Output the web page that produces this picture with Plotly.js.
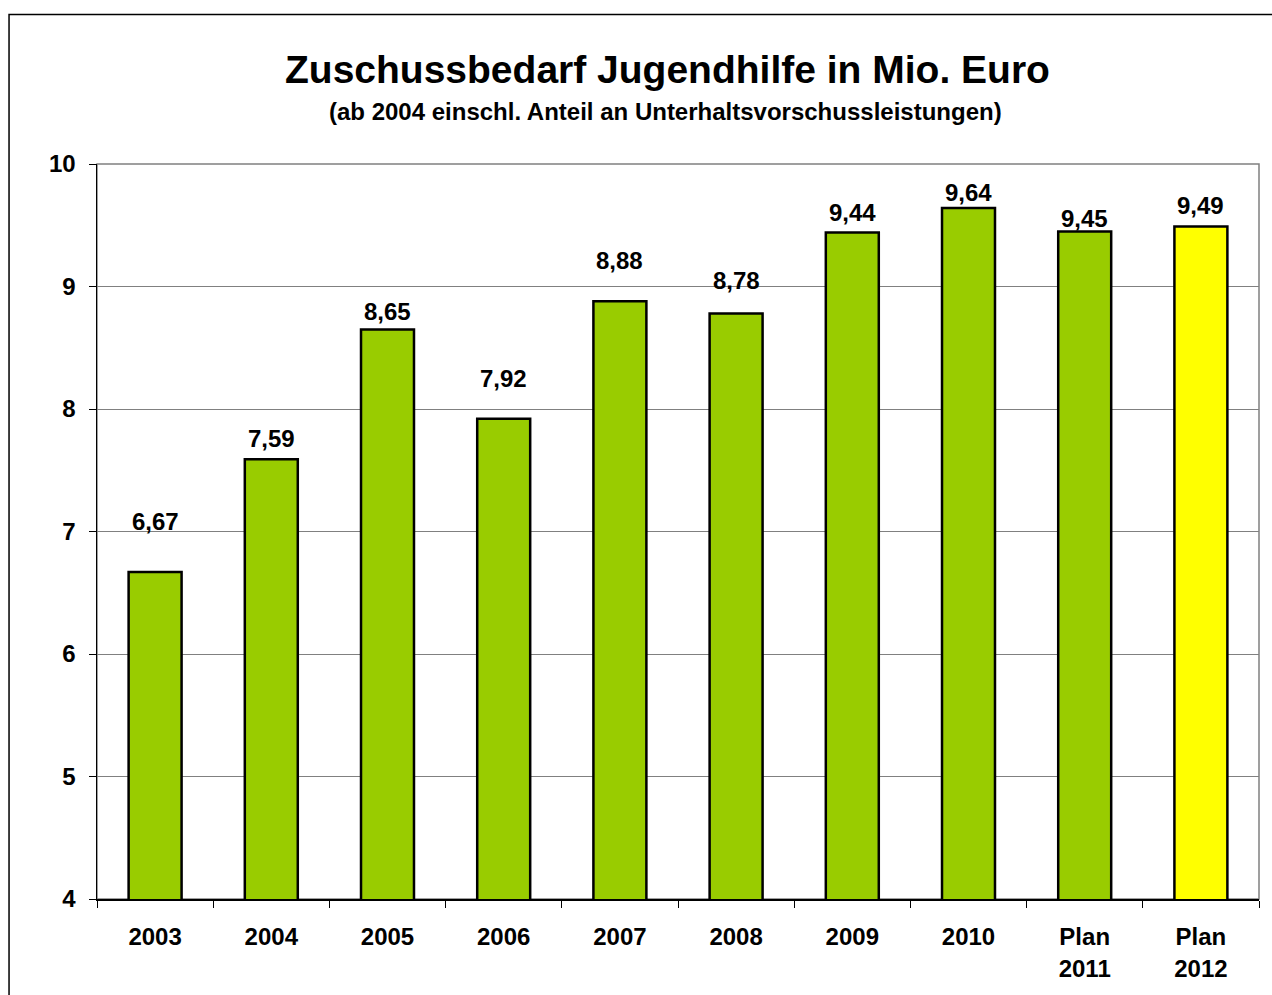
<!DOCTYPE html>
<html>
<head>
<meta charset="utf-8">
<script src="https://cdn.plot.ly/plotly-3.0.1.min.js"></script>
<style>html,body{margin:0;padding:0;background:#fff;}#chart{width:1272px;height:995px;}</style>
</head>
<body>
<div id="chart"></div>
<script>
const categories = ["2003","2004","2005","2006","2007","2008","2009","2010","Plan<br>2011","Plan<br>2012"];
const values = [6.67, 7.59, 8.65, 7.92, 8.88, 8.78, 9.44, 9.64, 9.45, 9.49];
const valueLabels = ["6,67","7,59","8,65","7,92","8,88","8,78","9,44","9,64","9,45","9,49"];
const yTicks = [4, 5, 6, 7, 8, 9, 10];

// styling
const barColors = ["#99CC00","#99CC00","#99CC00","#99CC00","#99CC00","#99CC00","#99CC00","#99CC00","#99CC00","#FFFF00"];
const labelLift = [50, 21, 18, 40, 41, 33, 20, 16, 13, 21];
const font = "Liberation Sans, Arial, sans-serif";

const trace = {
  type: "bar",
  x: categories,
  y: values,
  marker: {color: barColors, line: {color: "#000", width: 2.5}},
  hoverinfo: "none"
};

const annotations = categories.map((c, i) => ({
  x: i, y: values[i], xref: "x", yref: "y",
  text: "<b>" + valueLabels[i] + "</b>",
  showarrow: false, yanchor: "middle", yshift: labelLift[i],
  font: {family: font, size: 24, color: "#000"}
}));
annotations.push({
  xref: "paper", yref: "paper", x: 0.491, y: 1.128, xanchor: "center", yanchor: "middle",
  text: "<b>Zuschussbedarf Jugendhilfe in Mio. Euro</b>", showarrow: false,
  font: {family: font, size: 39, color: "#000"}
});
annotations.push({
  xref: "paper", yref: "paper", x: 0.489, y: 1.072, xanchor: "center", yanchor: "middle",
  text: "<b>(ab 2004 einschl. Anteil an Unterhaltsvorschussleistungen)</b>", showarrow: false,
  font: {family: font, size: 24, color: "#000"}
});

const layout = {
  width: 1272, height: 995,
  margin: {l: 97, r: 13, t: 164, b: 96, pad: 0},
  paper_bgcolor: "#fff", plot_bgcolor: "#fff",
  showlegend: false,
  bargap: 0.544,
  xaxis: {
    type: "category",
    categoryorder: "array", categoryarray: categories,
    showline: true, linecolor: "#000", linewidth: 1.5,
    ticks: "outside", tickson: "boundaries", ticklen: 7, tickcolor: "#000", tickwidth: 1,
    ticklabelstandoff: 16,
    tickfont: {family: font, size: 24, color: "#000"},
    tickangle: 0,
    showgrid: false, zeroline: false, automargin: false,
    fixedrange: true
  },
  yaxis: {
    range: [4, 10], tickvals: yTicks, ticktext: yTicks.map(v => "<b>" + v + "</b>"),
    showline: true, linecolor: "#000", linewidth: 1.5,
    ticks: "outside", ticklen: 7, tickcolor: "#000", tickwidth: 1,
    ticklabelstandoff: 8,
    tickfont: {family: font, size: 24, color: "#000"},
    showgrid: true, gridcolor: "#808080", gridwidth: 1,
    zeroline: false, automargin: false, fixedrange: true
  },
  shapes: [
    {type: "rect", xref: "paper", yref: "paper", x0: 0, x1: 1, y0: 0, y1: 1,
     line: {color: "#808080", width: 1.5}, layer: "below"},
    {type: "rect", xref: "paper", yref: "paper", x0: -0.0757, x1: 1.03, y0: -0.2, y1: 1.2034,
     line: {color: "#000", width: 1.5}, layer: "below"}
  ],
  annotations: annotations
};

layout.xaxis.ticktext = categories.map(c => "<b>" + c.replace("<br>", "</b><br><b>") + "</b>");
layout.xaxis.tickvals = categories;

Plotly.newPlot("chart", [trace], layout, {staticPlot: true, displayModeBar: false});
</script>
</body>
</html>
